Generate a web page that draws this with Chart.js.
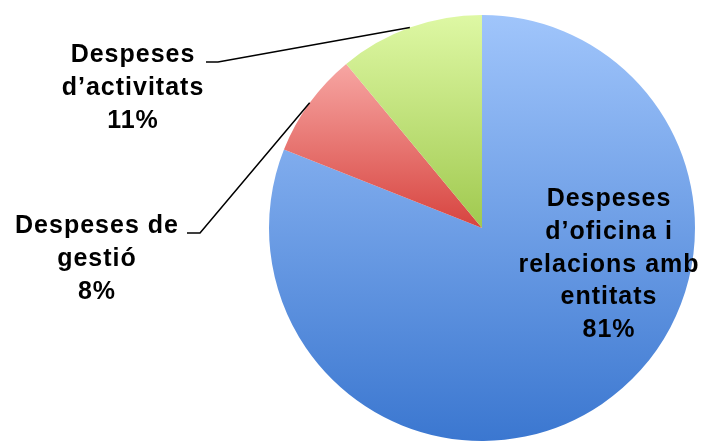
<!DOCTYPE html>
<html>
<head>
<meta charset="utf-8">
<script src="https://cdn.jsdelivr.net/npm/chart.js@4/dist/chart.umd.min.js"></script>
<style>
  html, body { margin: 0; padding: 0; background: #ffffff; }
  #wrap { width: 706px; height: 441px; }
</style>
</head>
<body>
<div id="wrap"><canvas id="pieChart" width="706" height="441"></canvas></div>
<script>
const categories = [
  "Despeses d\u2019oficina i relacions amb entitats",
  "Despeses de gesti\u00f3",
  "Despeses d\u2019activitats"
];
const percentages = [81, 8, 11];
const labelLines = [
  ["Despeses", "d\u2019oficina i", "relacions amb", "entitats", "81%"],
  ["Despeses de", "gesti\u00f3", "8%"],
  ["Despeses", "d\u2019activitats", "11%"]
];
const gradientStops = [
  ["#a0c5fb", "#3b77d0"],
  ["#f7a6a3", "#d7443f"],
  ["#def8a4", "#a0c94f"]
];

// label placement (center x, first baseline, optional leader elbow)
const labelPlacement = [
  { x: 609, y: 206, leader: null },
  { x: 97, y: 233, leader: { textEnd: 187, elbow: 200 } },
  { x: 133, y: 62, leader: { textEnd: 206, elbow: 218 } }
];
const lineHeight = 32.8;

function sliceGradient(context) {
  const chart = context.chart;
  const ca = chart.chartArea;
  const i = context.dataIndex;
  if (!ca) return gradientStops[i][1];
  const cx = (ca.left + ca.right) / 2;
  const cy = (ca.top + ca.bottom) / 2;
  const r = Math.min(ca.right - ca.left, ca.bottom - ca.top) / 2;
  const total = percentages.reduce((a, b) => a + b, 0);
  let before = 0;
  for (let k = 0; k < i; k++) before += percentages[k];
  const a0 = -Math.PI / 2 + (before / total) * Math.PI * 2;
  const a1 = a0 + (percentages[i] / total) * Math.PI * 2;
  const ys = [cy, cy + r * Math.sin(a0), cy + r * Math.sin(a1)];
  [-Math.PI / 2, Math.PI / 2, Math.PI * 1.5].forEach((a) => {
    if (a >= a0 && a <= a1) ys.push(cy + r * Math.sin(a));
  });
  const top = Math.min(...ys);
  const bottom = Math.max(...ys);
  const g = chart.ctx.createLinearGradient(0, top, 0, bottom);
  g.addColorStop(0, gradientStops[i][0]);
  g.addColorStop(1, gradientStops[i][1]);
  return g;
}

const labelPlugin = {
  id: "sliceLabels",
  afterDatasetsDraw(chart) {
    const ctx = chart.ctx;
    const meta = chart.getDatasetMeta(0);
    ctx.save();
    ctx.font = "bold 25px 'Liberation Sans', Arial, sans-serif";
    ctx.letterSpacing = "1px";
    ctx.fillStyle = "#000000";
    ctx.textAlign = "center";
    ctx.textBaseline = "alphabetic";
    labelLines.forEach((lines, i) => {
      const p = labelPlacement[i];
      lines.forEach((t, j) => ctx.fillText(t, p.x, p.y + j * lineHeight));
      if (p.leader) {
        const arc = meta.data[i];
        const mid = (arc.startAngle + arc.endAngle) / 2;
        const ex = arc.x + Math.cos(mid) * arc.outerRadius;
        const ey = arc.y + Math.sin(mid) * arc.outerRadius;
        const ly = p.y;
        ctx.beginPath();
        ctx.strokeStyle = "#000000";
        ctx.lineWidth = 1.5;
        ctx.moveTo(p.leader.textEnd, ly);
        ctx.lineTo(p.leader.elbow, ly);
        ctx.lineTo(ex, ey);
        ctx.stroke();
      }
    });
    ctx.restore();
  }
};

new Chart(document.getElementById("pieChart"), {
  type: "pie",
  data: {
    labels: categories,
    datasets: [
      {
        data: percentages,
        backgroundColor: sliceGradient,
        borderWidth: 0,
      },
    ],
  },
  options: {
    responsive: false,
    animation: false,
    layout: { padding: { left: 269, right: 11, top: 15, bottom: 0 } },
    plugins: {
      legend: { display: false },
      tooltip: { enabled: false },
    },
  },
  plugins: [labelPlugin],
});
</script>
</body>
</html>
